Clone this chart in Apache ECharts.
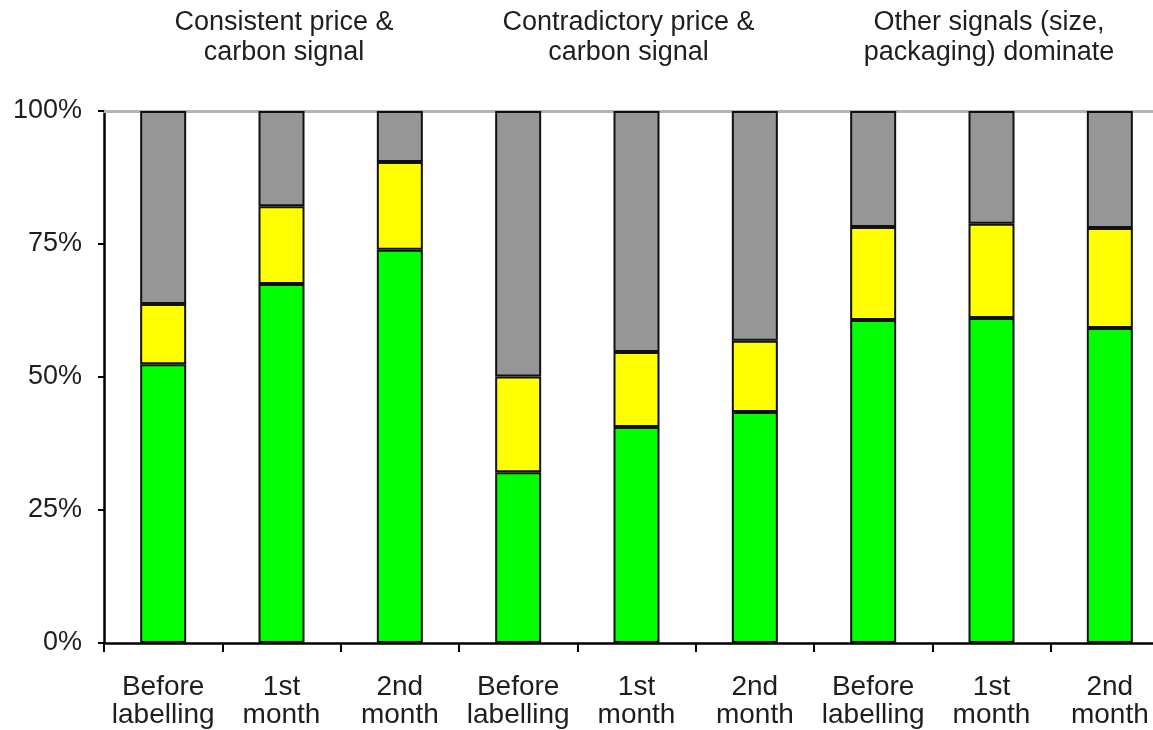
<!DOCTYPE html>
<html>
<head>
<meta charset="utf-8">
<script src="https://cdn.jsdelivr.net/npm/echarts@6/dist/echarts.min.js"></script>
<style>
html,body{margin:0;padding:0;background:#fff;overflow:hidden;}
#chart{width:1170px;height:730px;}
</style>
</head>
<body>
<div id="chart"></div>
<script>
const categories = ["Before\nlabelling","1st\nmonth","2nd\nmonth","Before\nlabelling","1st\nmonth","2nd\nmonth","Before\nlabelling","1st\nmonth","2nd\nmonth"];
const groupLabels = ["Consistent price &\ncarbon signal","Contradictory price &\ncarbon signal","Other signals (size,\npackaging) dominate"];
const greenValues = [52.4, 67.5, 73.9, 32.1, 40.6, 43.4, 60.7, 61.1, 59.2];
const yellowValues = [11.3, 14.6, 16.5, 18.0, 14.1, 13.4, 17.5, 17.7, 18.8];
const grayValues = [36.3, 17.9, 9.6, 49.9, 45.3, 43.2, 21.8, 21.2, 22.0];
const yTicks = [0, 25, 50, 75, 100];

const font = 'Liberation Sans, Arial, sans-serif';
const textColor = '#1e1e1e';
const chart = echarts.init(document.getElementById('chart'));
const barStyle = (c) => ({color: c, borderColor: '#111', borderWidth: 2});
const titleRich = {
  g0: {fontFamily: font, fontSize: 27, lineHeight: 30, color: textColor, padding: [0, 0, 0, 5]},
  g1: {fontFamily: font, fontSize: 27, lineHeight: 30, color: textColor, padding: [0, 16, 0, 0]},
  g2: {fontFamily: font, fontSize: 27, lineHeight: 30, color: textColor, padding: [0, 5, 0, 0]}
};
chart.setOption({
  animation: false,
  backgroundColor: '#fff',
  grid: {left: 104, top: 111, right: 1, bottom: 87, containLabel: false},
  xAxis: [{
    type: 'category',
    data: categories,
    position: 'bottom',
    axisLine: {lineStyle: {color: '#000', width: 2.5}},
    axisTick: {show: true, length: 9, lineStyle: {color: '#000', width: 2}},
    axisLabel: {fontFamily: font, fontSize: 28, lineHeight: 28, color: textColor, margin: 30, interval: 0}
  }, {
    type: 'category',
    data: groupLabels,
    position: 'top',
    axisLine: {lineStyle: {color: '#b4b4b4', width: 3}},
    axisTick: {show: false},
    axisLabel: {
      fontFamily: font, fontSize: 27, lineHeight: 30, color: textColor, margin: 43, interval: 0,
      formatter: (v, i) => v.split('\n').map(s => '{g' + i + '|' + s + '}').join('\n'),
      rich: titleRich
    }
  }],
  yAxis: {
    type: 'value',
    min: yTicks[0], max: yTicks[yTicks.length - 1], interval: 25,
    axisLine: {show: true, lineStyle: {color: '#000', width: 2.5}},
    axisTick: {show: true, length: 6, lineStyle: {color: '#000', width: 2}},
    splitLine: {show: false},
    axisLabel: {formatter: '{value}%', fontFamily: font, fontSize: 27, color: textColor, margin: 22}
  },
  series: [
    {type: 'bar', stack: 'a', data: greenValues, barWidth: 46, itemStyle: barStyle('#00ff00')},
    {type: 'bar', stack: 'a', data: yellowValues, barWidth: 46, itemStyle: barStyle('#ffff00')},
    {type: 'bar', stack: 'a', data: grayValues, barWidth: 46, itemStyle: barStyle('#969696')}
  ]
});
</script>
</body>
</html>
